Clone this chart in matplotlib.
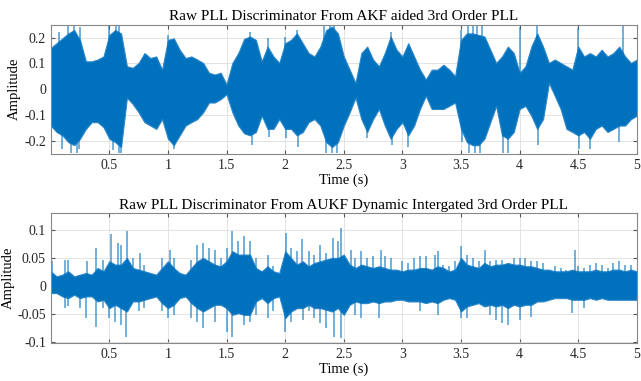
import numpy as np
import matplotlib
matplotlib.use('Agg')
import matplotlib.pyplot as plt

# envelope of the discriminator output, read every 0.05 s from the picture
t_env = np.arange(0, 5.001, 0.05)

akf_hi = [0.16, 0.178, 0.197, 0.216, 0.229, 0.19, 0.108, 0.108, 0.115, 0.127,
          0.21, 0.229, 0.216, 0.089, 0.083, 0.102, 0.14, 0.121, 0.127, 0.076,
          0.191, 0.197, 0.153, 0.121, 0.127, 0.115, 0.102, 0.064, 0.057, 0.064,
          0.019, 0.102, 0.14, 0.195, 0.204, 0.191, 0.108, 0.165, 0.127, 0.102,
          0.178, 0.191, 0.216, 0.178, 0.14, 0.127, 0.165, 0.229, 0.242, 0.216,
          0.127, 0.076, 0.025, 0.14, 0.165, 0.115, 0.089, 0.14, 0.204, 0.153,
          0.127, 0.178, 0.127, 0.076, 0.038, 0.076, 0.076, 0.095, 0.076, 0.051,
          0.191, 0.216, 0.216, 0.21, 0.204, 0.153, 0.102, 0.127, 0.165, 0.14,
          0.064, 0.089, 0.165, 0.216, 0.165, 0.102, 0.115, 0.102, 0.089, 0.076,
          0.165, 0.127, 0.14, 0.127, 0.153, 0.127, 0.14, 0.165, 0.127, 0.102,
          0.115]
akf_lo = [-0.14, -0.165, -0.178, -0.204, -0.216, -0.191, -0.153, -0.127, -0.127, -0.146,
          -0.191, -0.204, -0.223, -0.032, -0.057, -0.089, -0.127, -0.14, -0.153, -0.115,
          -0.191, -0.216, -0.178, -0.14, -0.127, -0.115, -0.089, -0.051, -0.051, -0.038,
          -0.019, -0.089, -0.14, -0.17, -0.178, -0.165, -0.102, -0.153, -0.153, -0.115,
          -0.153, -0.153, -0.178, -0.165, -0.127, -0.115, -0.14, -0.204, -0.223, -0.204,
          -0.14, -0.089, -0.032, -0.115, -0.165, -0.115, -0.076, -0.14, -0.191, -0.153,
          -0.127, -0.178, -0.14, -0.076, -0.025, -0.076, -0.076, -0.076, -0.064, -0.051,
          -0.153, -0.204, -0.216, -0.216, -0.191, -0.127, -0.064, -0.178, -0.191, -0.165,
          -0.076, -0.064, -0.102, -0.153, -0.115, 0.025, -0.025, -0.076, -0.153, -0.165,
          -0.178, -0.165, -0.191, -0.153, -0.14, -0.165, -0.153, -0.14, -0.14, -0.115,
          -0.102]

akf_spike_t = [0.07, 0.10, 0.15, 0.17, 0.20, 0.22, 0.25, 0.24, 0.50, 0.53,
               0.56, 0.585, 0.60, 0.58, 1.0, 1.05, 1.70, 1.72, 1.85, 1.86,
               2.0, 2.01, 2.1, 2.11, 2.33, 2.38, 2.42, 2.35, 2.40, 2.44,
               2.7, 2.9, 2.91, 3.05, 3.5, 3.51, 3.56, 3.6, 3.64, 3.68,
               3.57, 3.62, 3.66, 3.86, 3.9, 4.0, 4.15, 4.16, 4.5, 4.51,
               4.6, 4.85, 4.88]
akf_spike_v = [0.223, -0.23, 0.248, -0.245, 0.248, -0.245, 0.242, -0.23, 0.248, -0.235,
               0.248, 0.248, -0.245, -0.245, 0.21, -0.23, 0.223, -0.216, 0.197, -0.185,
               0.204, -0.19, 0.229, -0.223, 0.248, 0.248, 0.248, -0.245, -0.245, -0.245,
               -0.19, 0.223, -0.216, -0.223, 0.229, -0.204, 0.248, 0.248, 0.248, 0.248,
               -0.245, -0.245, -0.245, -0.245, -0.245, 0.242, 0.248, -0.216, 0.235, -0.229,
               -0.229, -0.204, 0.248]

aukf_hi = [0.026, 0.017, 0.02, 0.026, 0.017, 0.02, 0.023, 0.02, 0.032, 0.026,
           0.044, 0.038, 0.038, 0.05, 0.032, 0.029, 0.026, 0.023, 0.02, 0.032,
           0.044, 0.032, 0.023, 0.02, 0.032, 0.044, 0.05, 0.044, 0.038, 0.035,
           0.044, 0.062, 0.056, 0.056, 0.056, 0.032, 0.026, 0.035, 0.026, 0.023,
           0.062, 0.05, 0.038, 0.044, 0.035, 0.041, 0.044, 0.047, 0.05, 0.05,
           0.056, 0.038, 0.032, 0.038, 0.035, 0.032, 0.035, 0.032, 0.029, 0.029,
           0.026, 0.029, 0.029, 0.032, 0.032, 0.029, 0.035, 0.032, 0.026, 0.029,
           0.05, 0.038, 0.035, 0.032, 0.041, 0.035, 0.038, 0.038, 0.041, 0.038,
           0.038, 0.035, 0.035, 0.032, 0.029, 0.029, 0.026, 0.026, 0.026, 0.029,
           0.026, 0.026, 0.026, 0.029, 0.026, 0.026, 0.029, 0.029, 0.026, 0.029,
           0.026]
aukf_lo = [-0.013, -0.013, -0.019, -0.022, -0.016, -0.022, -0.019, -0.019, -0.028, -0.025,
           -0.04, -0.034, -0.04, -0.046, -0.028, -0.028, -0.025, -0.022, -0.019, -0.031,
           -0.04, -0.034, -0.022, -0.019, -0.031, -0.04, -0.046, -0.04, -0.034, -0.034,
           -0.04, -0.052, -0.049, -0.052, -0.052, -0.028, -0.022, -0.031, -0.022, -0.019,
           -0.058, -0.046, -0.04, -0.04, -0.034, -0.04, -0.04, -0.043, -0.046, -0.04,
           -0.052, -0.034, -0.028, -0.031, -0.031, -0.028, -0.031, -0.028, -0.028, -0.025,
           -0.025, -0.028, -0.028, -0.028, -0.031, -0.028, -0.031, -0.025, -0.022, -0.025,
           -0.046, -0.037, -0.034, -0.031, -0.037, -0.034, -0.037, -0.034, -0.04, -0.034,
           -0.037, -0.034, -0.034, -0.028, -0.028, -0.025, -0.022, -0.022, -0.022, -0.025,
           -0.025, -0.025, -0.022, -0.025, -0.022, -0.025, -0.025, -0.025, -0.025, -0.025,
           -0.025]

aukf_up_t = [0.01, 0.118, 0.147, 0.31, 0.39, 0.45, 0.516, 0.573, 0.6, 0.647,
             0.7, 0.758, 0.8, 0.95, 1.014, 1.05, 1.2, 1.25, 1.3, 1.35,
             1.4, 1.45, 1.5, 1.55, 1.6, 1.648, 1.7, 1.75, 1.85, 1.9,
             2.004, 2.05, 2.1, 2.14, 2.2, 2.25, 2.3, 2.35, 2.41, 2.45,
             2.479, 2.565, 2.6, 2.65, 2.7, 2.75, 2.815, 2.85, 2.9, 3.0,
             3.05, 3.1, 3.15, 3.2, 3.28, 3.3, 3.35, 3.4, 3.45, 3.497,
             3.55, 3.6, 3.65, 3.705, 3.75, 3.8, 3.85, 3.95, 4.0, 4.05,
             4.1, 4.15, 4.2, 4.3, 4.35, 4.4, 4.473, 4.5, 4.55, 4.6,
             4.65, 4.7, 4.75, 4.8, 4.85, 4.9, 4.95]
aukf_up_v = [0.044, 0.047, 0.047, 0.044, 0.068, 0.047, 0.092, 0.077, 0.074, 0.098,
             0.05, 0.059, 0.038, 0.05, 0.065, 0.05, 0.047, 0.074, 0.077, 0.068,
             0.065, 0.05, 0.068, 0.098, 0.08, 0.089, 0.08, 0.05, 0.056, 0.035,
             0.095, 0.068, 0.062, 0.083, 0.062, 0.056, 0.074, 0.059, 0.086, 0.08,
             0.104, 0.065, 0.05, 0.062, 0.05, 0.053, 0.065, 0.053, 0.05, 0.044,
             0.041, 0.05, 0.053, 0.053, 0.056, 0.062, 0.038, 0.035, 0.044, 0.071,
             0.056, 0.05, 0.044, 0.065, 0.044, 0.047, 0.047, 0.05, 0.05, 0.05,
             0.044, 0.044, 0.041, 0.035, 0.032, 0.029, 0.065, 0.035, 0.032, 0.038,
             0.041, 0.038, 0.032, 0.041, 0.044, 0.038, 0.038]

aukf_dn_t = [0.118, 0.15, 0.25, 0.3, 0.39, 0.45, 0.5, 0.55, 0.6, 0.645,
             0.75, 0.8, 0.95, 1.0, 1.05, 1.2, 1.25, 1.3, 1.4, 1.5,
             1.55, 1.65, 1.7, 1.75, 1.85, 1.9, 2.0, 2.05, 2.15, 2.2,
             2.25, 2.3, 2.35, 2.415, 2.479, 2.6, 2.65, 2.8, 3.15, 3.3,
             3.5, 3.55, 3.75, 3.8, 3.85, 3.9, 4.0, 4.1, 4.45, 4.55]
aukf_dn_v = [-0.04, -0.037, -0.04, -0.058, -0.073, -0.04, -0.058, -0.064, -0.07, -0.091,
             -0.046, -0.04, -0.046, -0.058, -0.052, -0.058, -0.064, -0.076, -0.064, -0.082,
             -0.091, -0.07, -0.064, -0.052, -0.058, -0.046, -0.082, -0.064, -0.061, -0.046,
             -0.058, -0.067, -0.076, -0.091, -0.094, -0.052, -0.058, -0.058, -0.046, -0.052,
             -0.058, -0.058, -0.052, -0.061, -0.067, -0.07, -0.061, -0.055, -0.049, -0.04]

blue = '#0072BD'
plt.rcParams['font.family'] = ['Liberation Serif', 'DejaVu Serif']
plt.rcParams['font.size'] = 10


def Plot_Disc(ax, hi, lo, sp_t, sp_v, ylim, yticks, title):
    ax.fill_between(t_env, lo, hi, color=blue, lw=0.8, edgecolor='#2a86c8')
    ax.vlines(sp_t, 0, sp_v, color=blue, lw=1.1, alpha=0.7)
    ax.set_xlim(0.001, 5)
    ax.set_ylim(*ylim)
    ax.set_xticks([0.5, 1, 1.5, 2, 2.5, 3, 3.5, 4, 4.5, 5])
    ax.set_xticklabels(['0.5', '1', '1.5', '2', '2.5', '3', '3.5', '4', '4.5', '5'])
    ax.set_yticks(yticks)
    ax.set_yticklabels([('%g' % v) for v in yticks])
    ax.grid(True, color='#dedede', lw=0.6)
    ax.set_axisbelow(True)
    ax.tick_params(direction='in', length=3, top=True, right=True,
                   color='#555555', labelcolor='#262626', labelsize=10)
    for s in ax.spines.values():
        s.set_color('#888888')
        s.set_linewidth(0.8)
    ax.set_xlabel('Time (s)', fontsize=10.5, labelpad=1)
    ax.set_ylabel('Amplitude', fontsize=10.5, labelpad=2)
    ax.set_title(title, fontsize=11, pad=3)


fig = plt.figure(figsize=(6.41, 3.81), dpi=100)
ax1 = fig.add_axes([0.0793, 0.5958, 0.9142, 0.3396])
ax2 = fig.add_axes([0.0793, 0.0997, 0.9142, 0.3420])

Plot_Disc(ax1, akf_hi, akf_lo, akf_spike_t, akf_spike_v, (-0.25, 0.25),
          [-0.2, -0.1, 0, 0.1, 0.2],
          'Raw PLL Discriminator From AKF aided 3rd Order PLL')
Plot_Disc(ax2, aukf_hi, aukf_lo, aukf_up_t + aukf_dn_t, aukf_up_v + aukf_dn_v,
          (-0.1025, 0.131), [-0.1, -0.05, 0, 0.05, 0.1],
          'Raw PLL Discriminator From AUKF Dynamic Intergated 3rd Order PLL')

fig.savefig('out.png', dpi=100)
